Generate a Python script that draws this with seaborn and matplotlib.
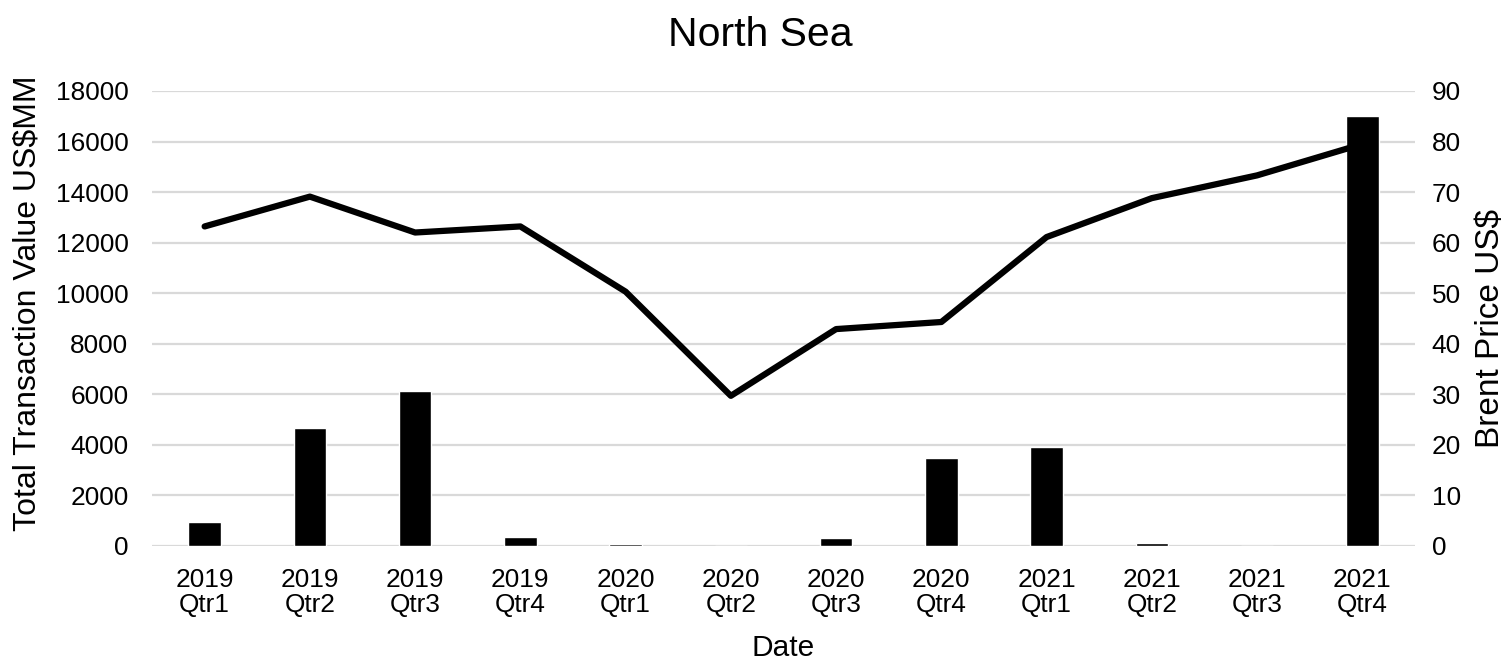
import matplotlib
matplotlib.use("Agg")
import matplotlib.pyplot as plt
import seaborn as sns
import numpy as np
import pandas as pd

quarters = ["2019\nQtr1", "2019\nQtr2", "2019\nQtr3", "2019\nQtr4",
            "2020\nQtr1", "2020\nQtr2", "2020\nQtr3", "2020\nQtr4",
            "2021\nQtr1", "2021\nQtr2", "2021\nQtr3", "2021\nQtr4"]
transaction_value = [940, 4680, 6150, 370, 60, 0, 320, 3470, 3930, 100, 0, 17000]
brent_price = [63.2, 69.1, 62.0, 63.2, 50.3, 29.7, 42.9, 44.3, 61.1, 68.8, 73.3, 79.5]
left_ticks = list(range(0, 18001, 2000))
right_ticks = list(range(0, 91, 10))

sns.set_theme(style="white")
plt.rcParams["font.family"] = ["Liberation Sans", "DejaVu Sans"]

df = pd.DataFrame({"Date": quarters, "Value": transaction_value,
                   "Brent": brent_price, "pos": np.arange(len(quarters))})

fig = plt.figure(figsize=(15.08, 6.59), dpi=100)
ax = fig.add_axes([0.1008, 0.1715, 0.8375, 0.6905])

sns.barplot(data=df, x="Date", y="Value", color="black", width=0.31,
            saturation=1, ax=ax, zorder=3)
ax.set_ylim(0, 18000)
ax.set_yticks(left_ticks)
ax.set_xlim(-0.5, len(quarters) - 0.5)
ax.yaxis.grid(True, color="#d9d9d9", linewidth=1.6, zorder=0)
ax.set_axisbelow(True)
ax.tick_params(axis="y", length=0, pad=17, labelsize=18.9, colors="black")
ax.tick_params(axis="x", length=0, pad=16, labelsize=18.9, colors="black")
for lbl in ax.get_xticklabels():
    lbl.set_linespacing(1.05)
ax.set_xlabel("Date", fontsize=21.5, labelpad=12, color="black")
ax.set_ylabel("Total Transaction Value US$MM", fontsize=23, labelpad=14, color="black")
ax.yaxis.set_label_coords(-0.087, 0.534)
for s in ax.spines.values():
    s.set_visible(False)

ax2 = ax.twinx()
sns.lineplot(data=df, x="pos", y="Brent", color="black", linewidth=4.5,
             ax=ax2, solid_capstyle="round", zorder=4)
ax2.set_ylim(0, 90)
ax2.set_yticks(right_ticks)
ax2.set_xlim(-0.5, len(quarters) - 0.5)
ax2.tick_params(axis="y", length=0, pad=12, labelsize=18.9, colors="black")
ax2.set_ylabel("Brent Price US$", fontsize=24, labelpad=10, color="black")
ax2.yaxis.set_label_coords(1.0475, 0.477)
ax2.set_xlabel("")
for s in ax2.spines.values():
    s.set_visible(False)

fig.suptitle("North Sea", fontsize=29.5, y=0.975, x=0.504, color="black")

fig.savefig("out.png", dpi=100)
